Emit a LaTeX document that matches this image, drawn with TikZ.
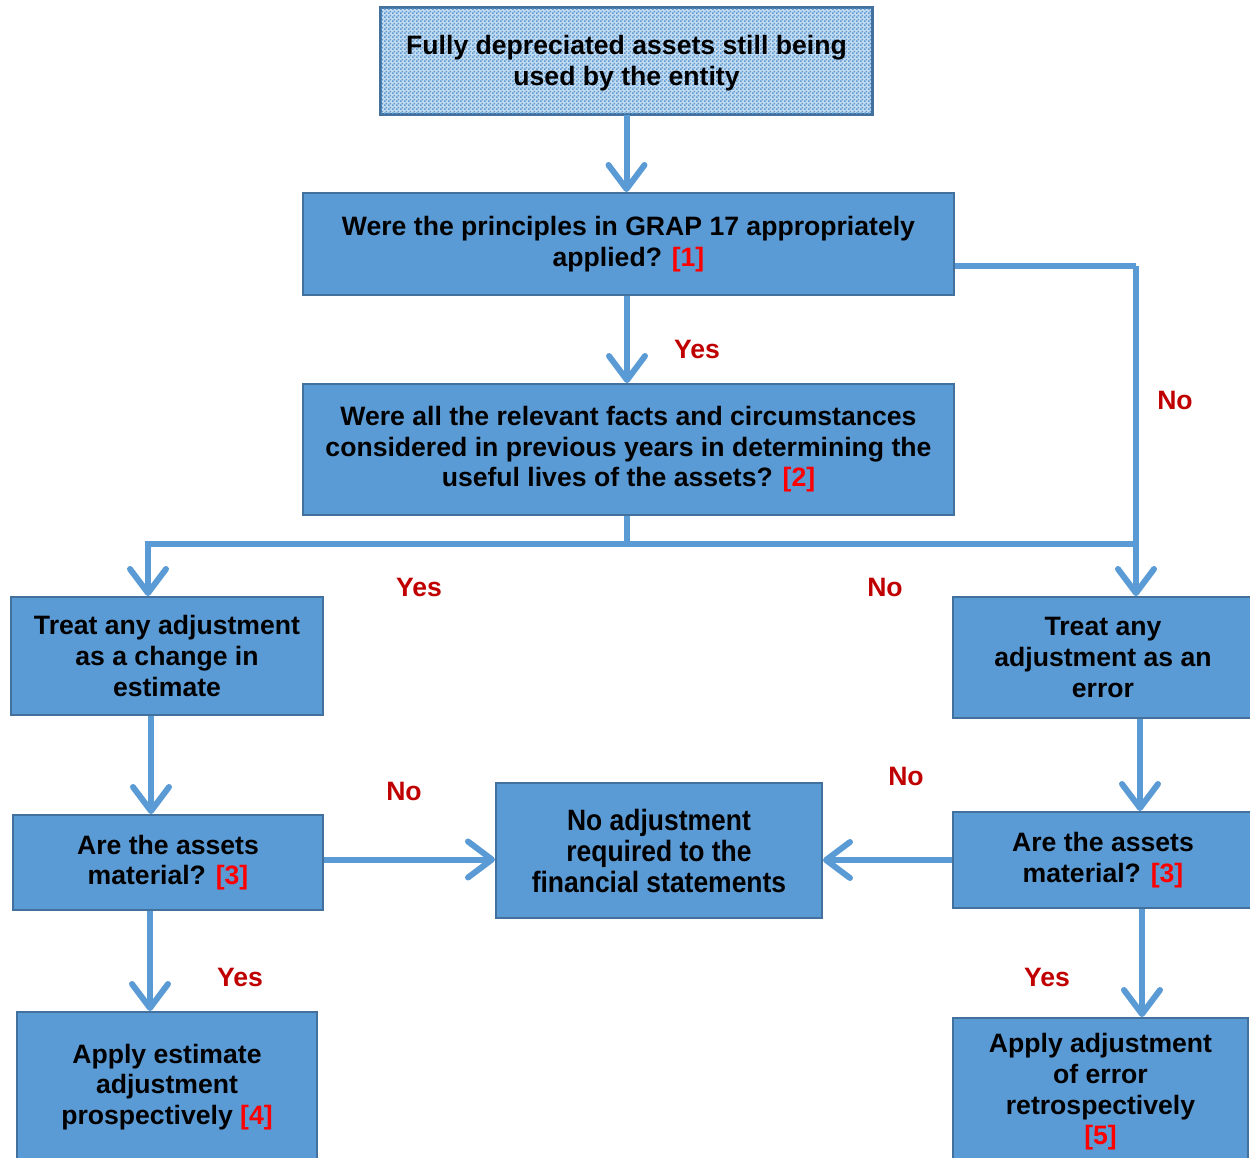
\documentclass[tikz,border=0pt]{standalone}
\usepackage{fontspec}
\setmainfont{Liberation Sans}
\newfontfamily\narrowfont{Liberation Sans Bold}[FakeStretch=0.9]
\usetikzlibrary{arrows.meta,calc,patterns.meta}
\definecolor{boxblue}{HTML}{5B9BD5}
\definecolor{boxedge}{HTML}{41719C}
\definecolor{lightbox}{HTML}{C5DBF0}
\definecolor{labred}{HTML}{C00000}
\definecolor{refred}{HTML}{FF0000}
\newcommand{\refn}[1]{\textcolor{refred}{[#1]}}
\tikzdeclarepattern{name=finechecker, type=uncolored,
  bounding box={(0,0) and (2pt,2pt)}, tile size={(2pt,2pt)},
  code={\fill (0,0) rectangle (1pt,1pt); \fill (1pt,1pt) rectangle (2pt,2pt);}}
\tikzset{
  flowbox/.style={draw=boxedge, line width=1pt, fill=boxblue, inner sep=0pt,
    align=center, font=\fontsize{13.3}{15.3}\selectfont\bfseries},
  conn/.style={draw=boxblue, line width=3pt,
    -{Straight Barb[length=12pt,width=18pt,round]}},
  plainconn/.style={draw=boxblue, line width=3pt},
  lab/.style={text=labred, font=\fontsize{13.3}{15}\selectfont\bfseries, inner sep=0pt}
}
\begin{document}
\begin{tikzpicture}[x=0.5pt,y=-0.5pt]
\useasboundingbox (0,0) rectangle (1250,1158);
\clip (0,0) rectangle (1250,1158);
% boxes
\node[flowbox, fill=lightbox, minimum width=245.5pt, minimum height=53pt] (top) at (626.5,61) {};
\path[pattern={finechecker}, pattern color=boxblue] (top.south west) rectangle (top.north east);
\draw[boxedge, line width=1pt] (top.south west) rectangle (top.north east);
\node[align=center, inner sep=0pt, font=\fontsize{13.3}{15.3}\selectfont\bfseries] (toptext) at ($(top.center)+(0,2)$)
  {Fully depreciated assets still being\\used by the entity};
\node[flowbox, minimum width=325.5pt, minimum height=51pt] (q1) at (628.5,244)
  {Were the principles in GRAP 17 appropriately\\applied? \refn{1}};
\node[flowbox, minimum width=325.5pt, minimum height=65.5pt] (q2) at (628.5,449.5)
  {Were all the relevant facts and circumstances\\considered in previous years in determining the\\useful lives of the assets? \refn{2}};
\node[flowbox, minimum width=156pt, minimum height=59pt] (est) at (167,656)
  {Treat any adjustment\\as a change in\\estimate};
\node[flowbox, minimum width=150pt, minimum height=60.5pt] (err) at (1103,657.5)
  {Treat any\\adjustment as an\\error};
\node[flowbox, minimum width=155pt, minimum height=47.5pt] (matl) at (168,862.5)
  {Are the assets\\material? \refn{3}};
\node[flowbox, minimum width=163pt, minimum height=67.5pt,
  font=\fontsize{14.7}{15.5}\selectfont\narrowfont] (noadj) at (659,850.5)
  {No adjustment\\required to the\\financial statements};
\node[flowbox, minimum width=150pt, minimum height=48pt] (matr) at (1103,860)
  {Are the assets\\material? \refn{3}};
\node[flowbox, minimum width=150pt, minimum height=75pt] (pro) at (167,1087)
  {Apply estimate\\adjustment\\prospectively \refn{4}};
\node[flowbox, minimum width=147.5pt, minimum height=74pt] (retro) at (1100.5,1092)
  {Apply adjustment\\of error\\retrospectively\\\refn{5}};
% junction coordinates
\coordinate (nr) at (1136,266);
\coordinate (jl) at (148,544);
\coordinate (jr) at (1136,544);
% connectors
\draw[conn] (top.south) -- (top.south |- q1.north);
\draw[conn] ($(q1.south)+(-1.5,0)$) -- ($(q2.north)+(-1.5,0)$);
\draw[plainconn] (q1.east |- nr) -- (nr);
\draw[conn] (nr) -- (nr |- err.north);
\draw[plainconn] ($(q2.south)+(-1.5,0)$) -- ($(q2.south |- jl)+(-1.5,0)$);
\draw[conn] (jr) -- (jl) -- (jl |- est.north);
\draw[conn] ($(est.south)+(-16,0)$) -- ($(est.south |- matl.north)+(-16,0)$);
\draw[conn] ($(matl.south)+(-18,0)$) -- ($(matl.south |- pro.north)+(-18,0)$);
\draw[conn] ($(matl.east)+(0,-3)$) -- ($(matl.east -| noadj.west)+(0,-3)$);
\draw[conn] ($(err.south)+(37,0)$) -- ($(err.south |- matr.north)+(37,0)$);
\draw[conn] ($(matr.south)+(39,0)$) -- ($(matr.south |- retro.north)+(39,0)$);
\draw[conn] (matr.west) -- (matr.west -| noadj.east);
% labels
\node[lab] (y1) at (697,349) {Yes};
\node[lab] (n1) at (1175,400) {No};
\node[lab] (y2) at (419,587) {Yes};
\node[lab] (n2) at (885,587) {No};
\node[lab] (n3) at (404,791) {No};
\node[lab] (n4) at (906,776) {No};
\node[lab] (y3) at (240,977) {Yes};
\node[lab] (y4) at (1047,977) {Yes};
\end{tikzpicture}
\end{document}
